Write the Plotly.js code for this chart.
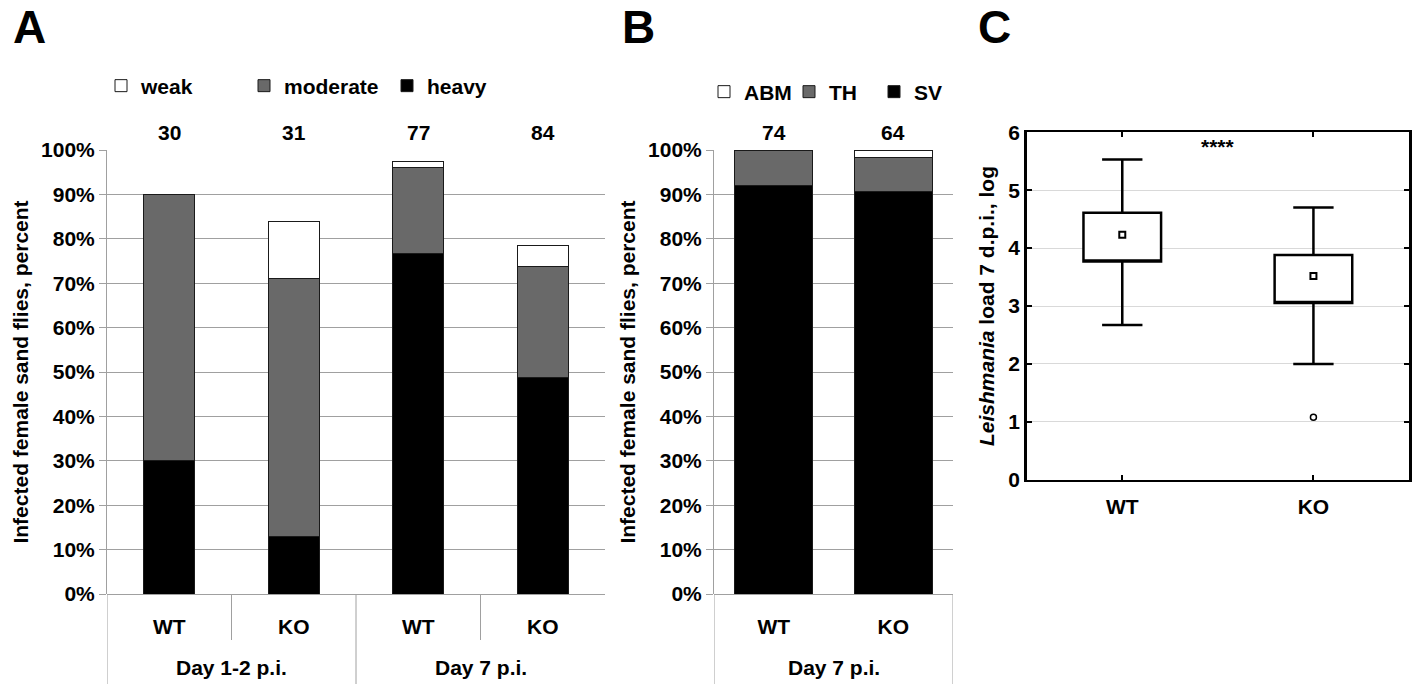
<!DOCTYPE html>
<html>
<head>
<meta charset="utf-8">
<script src="https://cdn.plot.ly/plotly-3.0.1.min.js"></script>
<style>html,body{margin:0;padding:0;background:#fff;}#chart{width:1416px;height:684px;}</style>
</head>
<body>
<div id="chart"></div>
<script>
// ---------- Panel A data ----------
const groupsA = ['Day 1-2 p.i.', 'Day 1-2 p.i.', 'Day 7 p.i.', 'Day 7 p.i.'];
const genotypesA = ['WT', 'KO', 'WT', 'KO'];
const countsA = [30, 31, 77, 84];
const seriesNamesA = ['heavy', 'moderate', 'weak'];
const heavyA = [30.0, 12.9, 76.6, 48.8];
const moderateA = [60.0, 58.1, 19.5, 25.0];
const weakA = [0.0, 12.9, 1.3, 4.8];

// ---------- Panel B data ----------
const groupsB = ['Day 7 p.i.', 'Day 7 p.i.'];
const genotypesB = ['WT', 'KO'];
const countsB = [74, 64];
const seriesNamesB = ['SV', 'TH', 'ABM'];
const svB = [91.9, 90.6];
const thB = [8.1, 7.8];
const abmB = [0.0, 1.6];

// ---------- Panel C data (log load, box statistics) ----------
const genotypesC = ['WT', 'KO'];
const q1C = [3.77, 3.05];
const q3C = [4.61, 3.88];
const medianC = [4.23, 3.52];
const lowerC = [2.67, 2.00];
const upperC = [5.53, 4.70];
const outlierXC = ['KO'];
const outlierYC = [1.08];
const significanceC = '****';

// ---------- helpers ----------
const FONT = 'Liberation Sans, Arial, sans-serif';
const keysA = groupsA.map((g, i) => g + '|' + genotypesA[i]);
const keysB = groupsB.map((g, i) => g + '|' + genotypesB[i]);
const colors = {dark: '#000000', mid: '#696969', light: '#ffffff'};
const barLine = {color: '#1a1a1a', width: 1};

function bar(name, xs, ys, color, xa, ya, legend, width) {
  return {type: 'bar', name: name, x: xs, y: ys, xaxis: xa, yaxis: ya,
    marker: {color: color, line: barLine}, width: width, legend: legend,
    hoverinfo: 'skip'};
}

const traces = [
  bar(seriesNamesA[0], keysA, heavyA, colors.dark, 'x', 'y', 'legend', 0.41),
  bar(seriesNamesA[1], keysA, moderateA, colors.mid, 'x', 'y', 'legend', 0.41),
  bar(seriesNamesA[2], keysA, weakA, colors.light, 'x', 'y', 'legend', 0.41),
  bar(seriesNamesB[0], keysB, svB, colors.dark, 'x2', 'y2', 'legend2', 0.65),
  bar(seriesNamesB[1], keysB, thB, colors.mid, 'x2', 'y2', 'legend2', 0.65),
  bar(seriesNamesB[2], keysB, abmB, colors.light, 'x2', 'y2', 'legend2', 0.65),
  // box: 25%-75% box, non-outlier range whiskers; median shown as a square marker (next trace)
  {type: 'box', x: genotypesC, q1: q1C, median: q1C, q3: q3C,
   lowerfence: lowerC, upperfence: upperC, xaxis: 'x3', yaxis: 'y3',
   width: 0.406, whiskerwidth: 0.52, fillcolor: '#ffffff',
   line: {color: '#000000', width: 2.5}, showlegend: false, hoverinfo: 'skip'},
  {type: 'scatter', mode: 'markers', x: genotypesC, y: medianC, xaxis: 'x3', yaxis: 'y3',
   marker: {symbol: 'square', size: 6, color: '#ffffff', line: {color: '#000000', width: 2}},
   showlegend: false, hoverinfo: 'skip'},
  {type: 'scatter', mode: 'markers', x: outlierXC, y: outlierYC, xaxis: 'x3', yaxis: 'y3',
   marker: {symbol: 'circle', size: 6, color: '#ffffff', line: {color: '#000000', width: 1.5}},
   showlegend: false, hoverinfo: 'skip'}
];

const W = 1416, H = 684;
const px = v => v / W;
const py = v => (H - v) / H;

const gray = '#a0a0a0';
const tickFont = {family: FONT, size: 21, color: '#000', weight: 700};
const titleFont = {family: FONT, size: 21, color: '#000', weight: 700};

function pctAxis(domain, anchor, title) {
  return {domain: domain, anchor: anchor, range: [0, 100], dtick: 10, ticksuffix: '%',
    showgrid: true, gridcolor: gray, gridwidth: 1, showline: true, linecolor: gray, linewidth: 1,
    ticks: 'outside', ticklen: 7, tickcolor: gray, zeroline: true, zerolinecolor: gray, zerolinewidth: 1,
    tickfont: tickFont, fixedrange: true,
    title: {text: title, font: titleFont, standoff: 6}};
}
function catAxis(domain, anchor, keys, labels) {
  return {domain: domain, anchor: anchor, type: 'category', range: [-0.5, keys.length - 0.5],
    tickvals: keys, ticktext: labels, showgrid: false, zeroline: false, showline: false,
    ticks: '', tickfont: tickFont, ticklabelstandoff: 18, fixedrange: true};
}

const yDomAB = [py(594), py(150)];

// group labels and divider lines
const annotations = [];
const shapes = [];
function groupDecor(groups, xa, dividerFull, dividerShort) {
  const uniq = [...new Set(groups)];
  uniq.forEach(g => {
    const idx = groups.map((v, i) => v === g ? i : -1).filter(i => i >= 0);
    const c = idx.reduce((a, b) => a + b, 0) / idx.length;
    annotations.push({xref: xa, yref: 'paper', x: c, y: py(667), text: g, showarrow: false,
      font: titleFont, xanchor: 'center', yanchor: 'middle'});
  });
  dividerFull.forEach(x => shapes.push({type: 'line', xref: xa, yref: 'paper', x0: x, x1: x,
    y0: 0, y1: py(594), line: {color: gray, width: 1}}));
  dividerShort.forEach(x => shapes.push({type: 'line', xref: xa, yref: 'paper', x0: x, x1: x,
    y0: py(640), y1: py(594), line: {color: gray, width: 1}}));
}
groupDecor(groupsA, 'x', [-0.5, 1.5], [0.5, 2.5]);
groupDecor(groupsB, 'x2', [-0.5, 1.5], []);

keysA.forEach((k, i) => annotations.push({xref: 'x', yref: 'paper', x: k, y: py(132), text: String(countsA[i]),
  showarrow: false, font: titleFont, yanchor: 'middle'}));
keysB.forEach((k, i) => annotations.push({xref: 'x2', yref: 'paper', x: k, y: py(132), text: String(countsB[i]),
  showarrow: false, font: titleFont, yanchor: 'middle'}));

// panel letters
[['A', 29.5], ['B', 638], ['C', 994]].forEach(([t, x]) => annotations.push({xref: 'paper', yref: 'paper',
  x: px(x), y: py(27), text: t, showarrow: false, xanchor: 'center', yanchor: 'middle',
  font: {family: FONT, size: 46, color: '#000', weight: 700}}));

// significance
annotations.push({xref: 'x3', yref: 'y3', x: 0.5, y: 5.76, text: significanceC, showarrow: false,
  font: {family: FONT, size: 21, color: '#000', weight: 700}, yanchor: 'middle'});

const legendBase = {orientation: 'h', xanchor: 'left', yanchor: 'middle', traceorder: 'reversed',
  bgcolor: 'rgba(0,0,0,0)', font: {family: FONT, size: 21, color: '#000', weight: 700},
  entrywidthmode: 'pixels'};

const layout = {
  width: W, height: H, margin: {l: 0, r: 0, t: 0, b: 0},
  paper_bgcolor: '#fff', plot_bgcolor: 'rgba(0,0,0,0)',
  font: {family: FONT, color: '#000'},
  barmode: 'stack', showlegend: true, hovermode: false,
  legend: Object.assign({}, legendBase, {x: px(101), y: py(86), entrywidth: 98}),
  legend2: Object.assign({}, legendBase, {x: px(704), y: py(92), entrywidth: 40}),
  xaxis: catAxis([px(107), px(605)], 'y', keysA, genotypesA),
  yaxis: pctAxis(yDomAB, 'x', 'Infected female sand flies, percent'),
  xaxis2: catAxis([px(714), px(953)], 'y2', keysB, genotypesB),
  yaxis2: pctAxis(yDomAB, 'x2', 'Infected female sand flies, percent'),
  xaxis3: {domain: [px(1026.7), px(1409)], anchor: 'y3', type: 'category', range: [-0.5, 1.5],
    categoryorder: 'array', categoryarray: genotypesC,
    showline: true, mirror: 'ticks', linecolor: '#000', linewidth: 2.5,
    ticks: 'inside', ticklen: 5, tickwidth: 2, tickcolor: '#000', showgrid: false, zeroline: false,
    tickfont: tickFont, ticklabelstandoff: 7, fixedrange: true},
  yaxis3: {domain: [py(479.7), py(132.3)], anchor: 'x3', range: [0, 6], dtick: 1,
    showline: true, mirror: 'ticks', linecolor: '#000', linewidth: 2.5,
    ticks: 'inside', ticklen: 5, tickwidth: 2, tickcolor: '#000',
    showgrid: true, gridcolor: '#d9d9d9', gridwidth: 1, zeroline: false,
    tickfont: tickFont, fixedrange: true,
    title: {text: '<i>Leishmania</i> load 7 d.p.i., log', font: titleFont, standoff: 8}},
  annotations: annotations,
  shapes: shapes
};

Plotly.newPlot('chart', traces, layout, {displayModeBar: false, staticPlot: true});
</script>
</body>
</html>
